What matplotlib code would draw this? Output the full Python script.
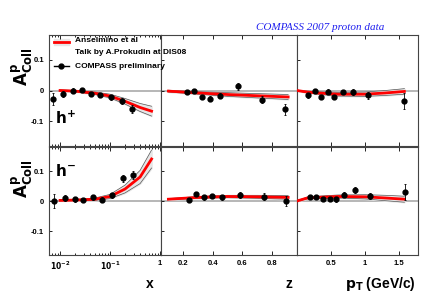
import numpy as np
import matplotlib
matplotlib.use("Agg")
import matplotlib.pyplot as plt
from matplotlib.ticker import LogLocator, NullFormatter, FixedLocator, FixedFormatter

plt.rcParams['font.family'] = ['Liberation Sans', 'DejaVu Sans']
plt.rcParams['font.weight'] = 'bold'

# ---- data: COMPASS points (h+ top row, h- bottom row) ----
x_pts = [0.0073, 0.0117, 0.0179, 0.028, 0.042, 0.064, 0.105, 0.17, 0.28]
x_hp = [-0.027, -0.012, 0.0, 0.002, -0.011, -0.014, -0.022, -0.033, -0.061]
x_hp_err = [0.020, 0.010, 0.007, 0.006, 0.007, 0.007, 0.008, 0.010, 0.013]
x_pts_m = [0.0076, 0.0128, 0.0197, 0.029, 0.045, 0.069, 0.108, 0.18, 0.29]
x_hm = [0.0, 0.009, 0.006, 0.003, 0.012, 0.005, 0.019, 0.076, 0.087]
x_hm_err = [0.022, 0.010, 0.008, 0.007, 0.007, 0.008, 0.009, 0.011, 0.014]

z_pts = [0.224, 0.273, 0.325, 0.38, 0.45, 0.57, 0.73, 0.89]
z_hp = [-0.005, 0.0, -0.022, -0.027, -0.017, 0.013, -0.03, -0.061]
z_hp_err = [0.005, 0.005, 0.007, 0.008, 0.008, 0.010, 0.012, 0.017]
z_pts_m = [0.237, 0.286, 0.34, 0.395, 0.465, 0.584, 0.745, 0.897]
z_hm = [0.003, 0.025, 0.012, 0.017, 0.012, 0.021, 0.015, 0.0]
z_hm_err = [0.005, 0.005, 0.007, 0.008, 0.008, 0.010, 0.013, 0.017]

pt_pts = [0.16, 0.26, 0.36, 0.46, 0.55, 0.67, 0.82, 1.05, 1.58]
pt_hp = [-0.016, -0.002, -0.02, -0.004, -0.021, -0.005, -0.005, -0.016, -0.034]
pt_hp_err = [0.007, 0.006, 0.007, 0.008, 0.007, 0.007, 0.009, 0.011, 0.025]
pt_pts_m = [0.19, 0.28, 0.38, 0.48, 0.57, 0.69, 0.85, 1.07, 1.59]
pt_hm = [0.012, 0.014, 0.006, 0.006, 0.006, 0.021, 0.037, 0.017, 0.03]
pt_hm_err = [0.006, 0.006, 0.007, 0.007, 0.008, 0.008, 0.010, 0.011, 0.028]

# ---- theory curves (Anselmino et al) with bands ----
x_th = [0.01, 0.02, 0.05, 0.1, 0.2, 0.4, 0.68]
x_th_hp = [0.0, -0.002, -0.009, -0.018, -0.035, -0.055, -0.067]
x_th_hp_w = [0.002, 0.002, 0.004, 0.006, 0.009, 0.013, 0.016]
x_th_hm = [0.002, 0.003, 0.006, 0.015, 0.04, 0.08, 0.14]
x_th_hm_w = [0.002, 0.002, 0.004, 0.007, 0.013, 0.022, 0.03]

z_th = [0.1, 0.3, 0.5, 0.7, 0.91]
z_th_hp = [-0.002, -0.008, -0.013, -0.017, -0.021]
z_th_hp_w = [0.003, 0.004, 0.006, 0.007, 0.008]
z_th_hm = [0.006, 0.012, 0.015, 0.014, 0.012]
z_th_hm_w = [0.002, 0.003, 0.004, 0.005, 0.006]

pt_th = [0.0, 0.15, 0.3, 0.6, 1.0, 1.3, 1.58]
pt_th_hp = [0.0, -0.005, -0.008, -0.012, -0.012, -0.008, -0.003]
pt_th_hp_w = [0.001, 0.003, 0.004, 0.006, 0.007, 0.008, 0.009]
pt_th_hm = [0.0, 0.01, 0.012, 0.015, 0.014, 0.01, 0.006]
pt_th_hm_w = [0.001, 0.003, 0.004, 0.005, 0.007, 0.009, 0.01]

fig = plt.figure(figsize=(4.36, 2.96), dpi=100)

lefts = [49, 161, 297]
widths = [112, 136, 121]
W, H = 436, 296
rows = [(35, 146), (147, 255)]

datasets = [
    [(x_pts, x_hp, x_hp_err, x_th, x_th_hp, x_th_hp_w),
     (z_pts, z_hp, z_hp_err, z_th, z_th_hp, z_th_hp_w),
     (pt_pts, pt_hp, pt_hp_err, pt_th, pt_th_hp, pt_th_hp_w)],
    [(x_pts_m, x_hm, x_hm_err, x_th, x_th_hm, x_th_hm_w),
     (z_pts_m, z_hm, z_hm_err, z_th, z_th_hm, z_th_hm_w),
     (pt_pts_m, pt_hm, pt_hm_err, pt_th, pt_th_hm, pt_th_hm_w)],
]
xlims = [(0.006, 1.05), (0.05, 0.97), (0.0, 1.78)]

axes = []
for r, (top, bot) in enumerate(rows):
    for c in range(3):
        ax = fig.add_axes([lefts[c] / W, 1 - bot / H, widths[c] / W, (bot - top) / H])
        px, py, pe, tx, ty, tw = datasets[r][c]
        tx = np.array(tx); ty = np.array(ty); tw = np.array(tw)
        ax.axhline(0, color='#aaaaaa', lw=1.2, zorder=1)
        ax.fill_between(tx, ty - tw, ty + tw, color='#e6e6e6', zorder=2)
        ax.plot(tx, ty - tw, color='#555555', lw=0.5, zorder=3)
        ax.plot(tx, ty + tw, color='#555555', lw=0.5, zorder=3)
        ax.plot(tx, ty, color='red', lw=2.0, zorder=4)
        ax.errorbar(px, py, yerr=pe, fmt='o', color='black', ms=3.5,
                    elinewidth=0.6, capsize=1, capthick=0.6, zorder=5)
        if c == 0:
            ax.set_xscale('log')
            ax.xaxis.set_major_locator(FixedLocator([0.01, 0.1, 1]))
            ax.xaxis.set_minor_locator(LogLocator(base=10, subs=np.arange(2, 10)))
            ax.xaxis.set_minor_formatter(NullFormatter())
            ax.xaxis.set_major_formatter(FixedFormatter(['$\\mathbf{10^{-2}}$', '$\\mathbf{10^{-1}}$', '1']))
        elif c == 1:
            ax.set_xticks([0.2, 0.4, 0.6, 0.8])
        else:
            ax.set_xticks([0.5, 1, 1.5])
            ax.set_xticklabels(['0.5', '1', '1.5'])
        ax.set_xlim(*xlims[c])
        ax.set_ylim(-0.18, 0.18)
        ax.set_yticks([-0.1, 0, 0.1])
        ax.tick_params(direction='in', which='both', top=True, length=3, labelsize=5.5, width=0.6)
        ax.tick_params(which='minor', length=1.5)
        ax.tick_params(axis='y', length=2)
        if c == 0:
            ax.set_yticklabels(['-0.1', '0', '0.1'])
        else:
            ax.set_yticklabels([])
        if r == 0:
            ax.set_xticklabels([])
        for s in ax.spines.values():
            s.set_linewidth(0.8)
            s.set_color('#444444')
        axes.append(ax)

# y labels
for (top, bot) in rows:
    yc = 1 - (top + 32) / H
    fig.text(22 / W, yc, '$\\mathbf{A^{p}_{Coll}}$', rotation=90, fontsize=12,
             ha='center', va='center')

axes[0].text(0.008, -0.11, '$\\mathbf{h^{+}}$', fontsize=11)
axes[3].text(0.008, 0.085, '$\\mathbf{h^{-}}$', fontsize=11)

# legend (symbols in the first panel, text on the figure so it runs over the next panel)
lx0, lx1 = 0.0075, 0.015
axes[0].fill_between([lx0, lx1], 0.148, 0.168, color='#e6e6e6')
axes[0].plot([lx0, lx1], [0.158, 0.158], color='red', lw=2)
axes[0].plot([lx0, lx1], [0.08, 0.08], color='black', lw=1)
axes[0].plot([np.sqrt(lx0 * lx1)], [0.08], 'o', color='black', ms=3.5)
fig.text(75 / W, 1 - 41 / H, 'Anselmino et al', fontsize=6, va='center', zorder=10)
fig.text(75 / W, 1 - 53 / H, 'Talk by A.Prokudin at DIS08', fontsize=6, va='center', zorder=10)
fig.text(75 / W, 1 - 67 / H, 'COMPASS preliminary', fontsize=6, va='center', zorder=10)

# x labels
fig.text(150 / W, 1 - 284 / H, 'x', fontsize=10, fontweight='bold', ha='center', va='center')
fig.text(289 / W, 1 - 284 / H, 'z', fontsize=10, fontweight='bold', ha='center', va='center')
fig.text(380 / W, 1 - 284 / H, '$\\mathbf{p_T}$ (GeV/c)', fontsize=10, fontweight='bold',
         ha='center', va='center')

fig.text(320 / W, 1 - 28 / H, 'COMPASS 2007 proton data', color='#2020ee', fontsize=8,
         family=['Liberation Serif', 'DejaVu Serif'], style='italic', fontweight='normal',
         ha='center', va='center')

fig.savefig('out.png', dpi=100)
